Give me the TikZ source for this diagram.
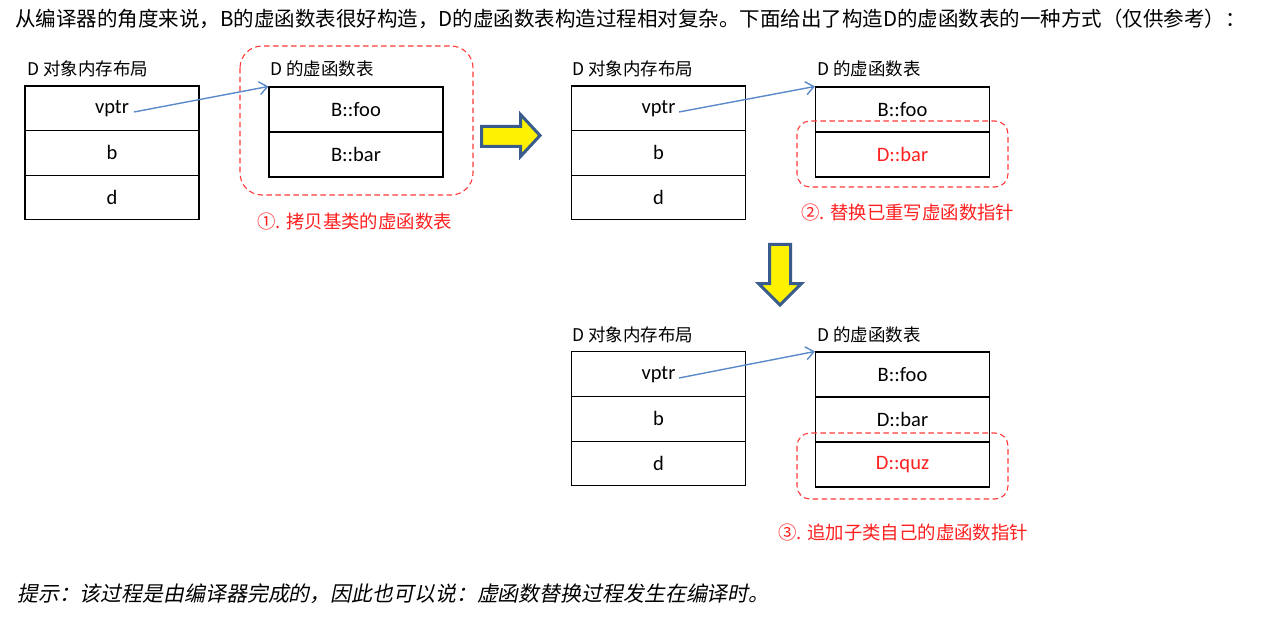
\documentclass[tikz,border=0pt]{standalone}
\usepackage{fontspec}
\setmainfont{Carlito}
\newfontfamily\cjk{Noto Sans CJK SC}
\newfontfamily\cjkit[FakeSlant=0.2]{Noto Sans CJK SC}
\usetikzlibrary{arrows.meta}
\definecolor{redtxt}{HTML}{FF2020}
\definecolor{reddash}{HTML}{FF3B3B}
\definecolor{bluearr}{HTML}{5B8ACB}
\definecolor{arrborder}{HTML}{3A5C8C}
\tikzset{
  cell/.style={draw=black, line width=1.1pt, minimum width=174pt, minimum height=44.6pt, inner sep=0pt, font=\fontsize{20.5}{24}\selectfont},
  redcell/.style={cell, text=redtxt},
  title/.style={anchor=west, inner sep=0pt, font=\cjk\fontsize{17.5}{20}\selectfont},
  caption/.style={anchor=west, inner sep=0pt, text=redtxt, font=\cjk\fontsize{18.4}{21}\selectfont},
  group/.style={draw=reddash, line width=1.1pt, dash pattern=on 5.5pt off 3.5pt},
  ptr/.style={draw=bluearr, line width=1.4pt, -{Straight Barb[length=8pt,width=13pt,line width=1.4pt]}},
  blockarrow/.style={fill=yellow, draw=arrborder, line width=3pt, line join=miter},
  para/.style={anchor=west, inner sep=0pt, font=\cjk\fontsize{20.9}{24}\selectfont}
}
\begin{document}
\begin{tikzpicture}[x=1pt,y=-1pt]
\useasboundingbox (0,0) rectangle (1265,620);
\fill[white] (0,0) rectangle (1265,620);

% header and footer text
\node[para, font=\cjk\fontsize{20.5}{24}\selectfont] (head) at (15,19) {从编译器的角度来说，B的虚函数表很好构造，D的虚函数表构造过程相对复杂。下面给出了构造D的虚函数表的一种方式（仅供参考）：};
\node[para, font=\cjkit\fontsize{20.9}{24}\selectfont] (foot) at (17,594) {提示：该过程是由编译器完成的，因此也可以说：虚函数替换过程发生在编译时。};

% ---------- panel 1 ----------
\node[title] (ta1) at (27,69) {D 对象内存布局};
\node[cell] (a1) at (112,108.3) {vptr};
\node[cell] (a2) at (112,152.9) {b};
\node[cell] (a3) at (112,197.5) {d};
\node[title] (tb1) at (270,69) {D 的虚函数表};
\node[cell, minimum height=45pt] (b1) at (356,109.5) {B::foo};
\node[cell, minimum height=45pt] (b2) at (356,154.5) {B::bar};
\draw[group, rounded corners=22pt] (240,46) rectangle (473,195);
\node[caption] (c1) at (257,222) {①. 拷贝基类的虚函数表};
\coordinate (p1) at (134,112);
\draw[ptr] (p1) -- (b1.north west);

% right block arrow
\draw[blockarrow] (481.5,126.5) -- (520.5,126.5) -- (520.5,114.5) -- (540,135.5) -- (520.5,156.5) -- (520.5,146.5) -- (481.5,146.5) -- cycle;

% ---------- panel 2 ----------
\node[title] (ta2) at (572,69) {D 对象内存布局};
\node[cell] (d1) at (658.5,108.3) {vptr};
\node[cell] (d2) at (658.5,152.9) {b};
\node[cell] (d3) at (658.5,197.5) {d};
\node[title] (tb2) at (817,69) {D 的虚函数表};
\node[cell, minimum height=45pt] (e1) at (902.5,109.5) {B::foo};
\node[redcell, minimum height=45pt] (e2) at (902.5,154.5) {D::bar};
\draw[group, rounded corners=13pt] (797,121) rectangle (1008,187);
\node[caption] (c2) at (801,213) {②. 替换已重写虚函数指针};
\coordinate (p2) at (679,112);
\draw[ptr] (p2) -- (e1.north west);

% down block arrow
\draw[blockarrow] (769.5,244.5) -- (790.5,244.5) -- (790.5,283.5) -- (801.5,283.5) -- (780,305) -- (758.5,283.5) -- (769.5,283.5) -- cycle;

% ---------- panel 3 ----------
\node[title] (ta3) at (572,335) {D 对象内存布局};
\node[cell] (g1) at (658.5,374.2) {vptr};
\node[cell] (g2) at (658.5,418.8) {b};
\node[cell] (g3) at (658.5,463.5) {d};
\node[title] (tb3) at (817,335) {D 的虚函数表};
\node[cell, minimum height=45pt] (h1) at (902.5,374.5) {B::foo};
\node[cell, minimum height=45pt] (h2) at (902.5,419.5) {D::bar};
\node[redcell, minimum height=45pt] (h3) at (902.5,464.5) {D::quz};
\draw[group, rounded corners=13pt] (797,433) rectangle (1008,499);
\node[caption] (c3) at (778,533) {③. 追加子类自己的虚函数指针};
\coordinate (p3) at (679,378);
\draw[ptr] (p3) -- (h1.north west);
\end{tikzpicture}
\end{document}
